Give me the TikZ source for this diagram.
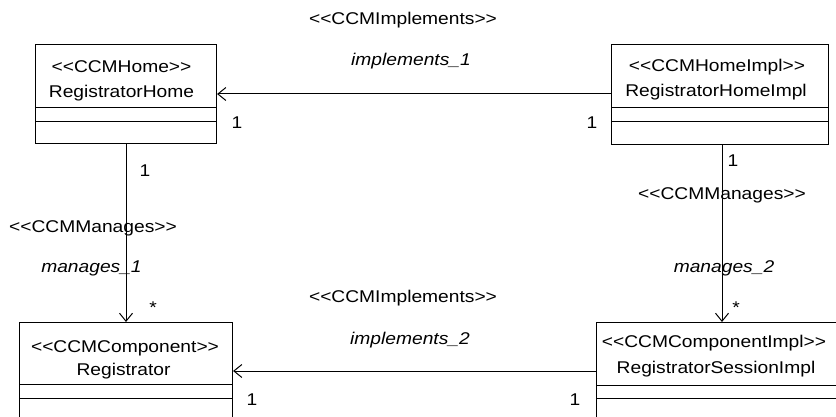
\documentclass[tikz,border=0pt]{standalone}
\usepackage{fontspec}
\setmainfont{Liberation Sans}[FakeStretch=1.13,Ligatures=TeXOff]
\usetikzlibrary{arrows.meta}
\begin{document}
\begin{tikzpicture}[x=1pt,y=-1pt,
  lbl/.style={font=\fontsize{17}{20}\selectfont, inner sep=0pt, anchor=base},
  ilbl/.style={lbl, font=\fontsize{17}{20}\selectfont\itshape},
  cls/.style={draw, line width=1.1pt, inner sep=0pt, anchor=north west},
  comp/.style={line width=0.9pt},
  conn/.style={line width=1pt, -{Straight Barb[length=8pt,width=13pt,line width=1pt]}}]
\useasboundingbox (0,0) rectangle (836,417);
\begin{scope}
\clip (0,0) rectangle (836,417);
% class boxes
\node[cls, minimum width=181pt, minimum height=99pt] (home) at (35,44) {};
\node[cls, minimum width=217pt, minimum height=100pt] (himpl) at (611,44) {};
\node[cls, minimum width=213pt, minimum height=120pt] (comp) at (19,322) {};
\node[cls, minimum width=260pt, minimum height=120pt] (cimpl) at (596,322) {};
\draw[comp] (35,107.5) -- (216,107.5) (35,121) -- (216,121);
\draw[comp] (611,107.5) -- (828,107.5) (611,121) -- (828,121);
\draw[comp] (19,384) -- (232,384) (19,398) -- (232,398);
\draw[comp] (596,385) -- (856,385) (596,398) -- (856,398);
\end{scope}
% class texts
\node[lbl] (t1a) at (121.5,73) {<<CCMHome>>};
\node[lbl] (t1b) at (121.5,98) {RegistratorHome};
\node[lbl] (t2a) at (717,72) {<<CCMHomeImpl>>};
\node[lbl] (t2b) at (716,97) {RegistratorHomeImpl};
\node[lbl] (t3a) at (125,352) {<<CCMComponent>>};
\node[lbl] (t3b) at (123.5,375) {Registrator};
\node[lbl] (t4a) at (714,347) {<<CCMComponentImpl>>};
\node[lbl] (t4b) at (716,373) {RegistratorSessionImpl};
% connector end points
\coordinate (i1s) at (himpl.west |- 0,94);
\coordinate (i1e) at (home.east |- 0,94);
\coordinate (i2s) at (cimpl.west |- 0,371);
\coordinate (i2e) at (comp.east |- 0,371);
\coordinate (m1s) at (home.south -| 126,0);
\coordinate (m1e) at (comp.north -| 126,0);
\coordinate (m2s) at (himpl.south -| 722,0);
\coordinate (m2e) at (cimpl.north -| 722,0);
\draw[conn] (i1s) -- (i1e);
\draw[conn] (i2s) -- (i2e);
\draw[conn] (m1s) -- (m1e);
\draw[conn] (m2s) -- (m2e);
% connector labels
\node[lbl] (l1) at (403,25) {<<CCMImplements>>};
\node[ilbl] (l2) at (411,66) {implements\_1};
\node[lbl] (l3) at (237,129) {1};
\node[lbl] (l4) at (592,129) {1};
\node[lbl] (l5) at (145,177) {1};
\node[lbl] (l6) at (93,233) {<<CCMManages>>};
\node[ilbl] (l7) at (91.5,272) {manages\_1};
\node[lbl] (l8) at (153,313) {*};
\node[lbl] (l9) at (733,167) {1};
\node[lbl] (l10) at (722,200) {<<CCMManages>>};
\node[ilbl] (l11) at (724,272) {manages\_2};
\node[lbl] (l12) at (736,313) {*};
\node[lbl] (l13) at (403,302) {<<CCMImplements>>};
\node[ilbl] (l14) at (410,344) {implements\_2};
\node[lbl] (l15) at (252,405) {1};
\node[lbl] (l16) at (575,405) {1};
\end{tikzpicture}
\end{document}
